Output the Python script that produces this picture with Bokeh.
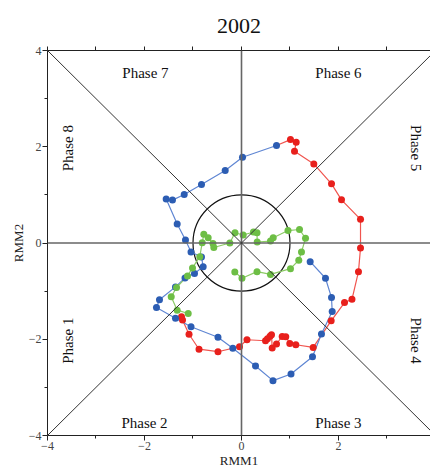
from bokeh.plotting import figure
from bokeh.models import Span, Slope, FixedTicker, LinearAxis, Range1d, Label
from bokeh.embed import file_html
from bokeh.resources import INLINE

# --- data (RMM1, RMM2) ---
red_x = [-1.237, -1.216, -1.082, -0.876, -0.485, -0.041, 0.113, 0.495, 0.536, 0.588, 0.619,
         0.633, 0.722, 0.839, 0.913, 0.996, 1.120, 1.478, 1.849, 2.124, 2.278, 2.412, 2.454,
         2.454, 2.062, 1.856, 1.491, 1.093, 1.128, 1.010]
red_y = [-1.534, -1.602, -1.896, -2.207, -2.259, -2.155, -2.010, -2.031, -1.990, -1.938, -1.907,
         -2.182, -2.099, -1.942, -1.948, -2.087, -2.114, -2.170, -1.617, -1.237, -1.171, -0.595, -0.104,
         0.491, 0.897, 1.229, 1.644, 1.907, 2.093, 2.149]

blue_x = [0.722, 0.021, -0.336, -0.825, -1.181, -1.423, -1.553, -1.326, -1.155, -1.041, -0.825,
          -0.790, -0.969, -1.165, -1.361, -1.691, -1.753, -1.361, -1.041, -0.485, -0.179, 0.289,
          0.649, 1.021, 1.464, 1.649, 1.870, 1.856, 1.732, 1.416]
blue_y = [2.025, 1.782, 1.507, 1.217, 1.009, 0.891, 0.912, 0.394, 0.062, -0.187, -0.290,
          -0.491, -0.632, -0.725, -0.912, -1.181, -1.341, -1.565, -1.741, -1.959, -2.187, -2.555,
          -2.860, -2.721, -2.363, -1.892, -1.424, -1.134, -0.732, -0.388]

green_x = [-1.099, -1.326, -1.449, -1.340, -1.113, -1.010, -0.860, -0.810, -0.777, -0.687, -0.588,
           -0.571, -0.241, -0.134, 0.035, 0.247, 0.320, 0.324, 0.598, 0.654, 0.959, 1.196, 1.320,
           1.237, 1.181, 1.010, 0.598, 0.320, 0.010, -0.138]
green_y = [-1.465, -1.395, -1.119, -0.926, -0.684, -0.518, -0.284, 0.006, 0.180, 0.110, -0.010,
           -0.093, 0.000, 0.213, 0.166, 0.228, 0.213, 0.021, 0.041, 0.110, 0.259, 0.280, 0.097,
           -0.187, -0.359, -0.533, -0.653, -0.595, -0.732, -0.601]

x_ticks = [-4, -2, 0, 2]
y_ticks = [-4, -2, 0, 2, 4]
minor_ticks = [-3, -1, 1, 3]
top_ticks = [-4, -3, -2, -1, 0, 1, 2, 3]
tick_labels = {-4: "\u22124", -2: "\u22122", 0: "0", 2: "2", 4: "4"}

phase_labels = ["Phase 7", "Phase 6", "Phase 2", "Phase 3", "Phase 8", "Phase 1", "Phase 5", "Phase 4"]
phase_x = [-1.98, 2.0, -2.0, 2.0, -3.57, -3.57, 3.59, 3.59]
phase_y = [3.54, 3.54, -3.75, -3.75, 1.97, -2.03, 1.97, -2.03]
phase_angle = [0, 0, 0, 0, 1.5708, 1.5708, -1.5708, -1.5708]

SERIF = "Liberation Serif"

p = figure(width=430, height=470, x_range=Range1d(-4, 3.897), y_range=Range1d(-4, 4),
           output_backend="svg", toolbar_location=None, title="2002",
           min_border_left=47, min_border_right=0, min_border_top=50, min_border_bottom=34)
p.grid.visible = False
p.outline_line_color = None
p.background_fill_color = "white"
p.border_fill_color = "white"

p.title.align = "center"
p.title.text_font = SERIF
p.title.text_font_size = "22px"
p.title.text_font_style = "normal"
p.title.text_color = "#111111"
p.title.offset = 3
p.title.standoff = 28

for ax, ticks in ((p.xaxis[0], x_ticks), (p.yaxis[0], y_ticks)):
    ax.ticker = FixedTicker(ticks=ticks, minor_ticks=minor_ticks)
    ax.major_label_overrides = {k: v for k, v in tick_labels.items() if k in ticks}
    ax.major_tick_in = 0
    ax.major_tick_out = 5
    ax.minor_tick_in = 0
    ax.minor_tick_out = 3
    ax.major_label_standoff = 1
    ax.axis_label_standoff = 0
    ax.major_label_text_font = SERIF
    ax.major_label_text_font_size = "12px"
    ax.axis_label_text_font = SERIF
    ax.axis_label_text_font_size = "13px"
    ax.axis_label_text_font_style = "normal"
    ax.axis_label_text_color = "#222222"
    ax.axis_line_color = "#222222"
    ax.major_tick_line_color = "#222222"
    ax.minor_tick_line_color = "#222222"
p.xaxis.axis_label = "RMM1"
p.yaxis.axis_label = "RMM2"

# top edge: line with small outward ticks, no labels
top = LinearAxis(ticker=FixedTicker(ticks=[], minor_ticks=top_ticks))
top.major_tick_line_color = None
top.minor_tick_in = 0
top.minor_tick_out = 4
top.minor_tick_line_color = "#222222"
top.axis_line_color = "#222222"
top.major_label_standoff = 0
p.add_layout(top, "above")

# reference lines
p.add_layout(Span(location=0, dimension="height", line_color="#666666", line_width=1.6))
p.add_layout(Span(location=0, dimension="width", line_color="#666666", line_width=1.6))
p.add_layout(Slope(gradient=1, y_intercept=0, line_color="#333333", line_width=1))
p.add_layout(Slope(gradient=-1, y_intercept=0, line_color="#333333", line_width=1))
p.ellipse(x=[0], y=[0], width=[2], height=[2], fill_color=None, line_color="#111111", line_width=1.2)

for lx, ly, lt, la in zip(phase_x, phase_y, phase_labels, phase_angle):
    kw = dict(x=lx, y=ly, text=lt, text_font=SERIF, text_font_size="15px",
              text_align="center", text_baseline="middle", text_color="#111111")
    if la != 0:
        kw["angle"] = la
    p.add_layout(Label(**kw))

# series
p.line(red_x + [blue_x[0]], red_y + [blue_y[0]], line_color="#F0554F", line_width=1.2)
p.line(blue_x, blue_y, line_color="#5F86D3", line_width=1.2)
p.line(green_x, green_y, line_color="#8CCB66", line_width=1.2)
p.scatter(red_x, red_y, size=7, fill_color="#E8201C", line_color=None)
p.scatter(blue_x, blue_y, size=7, fill_color="#2C5DB3", line_color=None)
p.scatter(green_x, green_y, size=7, fill_color="#6DBE45", line_color=None)

open("out.html", "w").write(file_html(p, INLINE))
